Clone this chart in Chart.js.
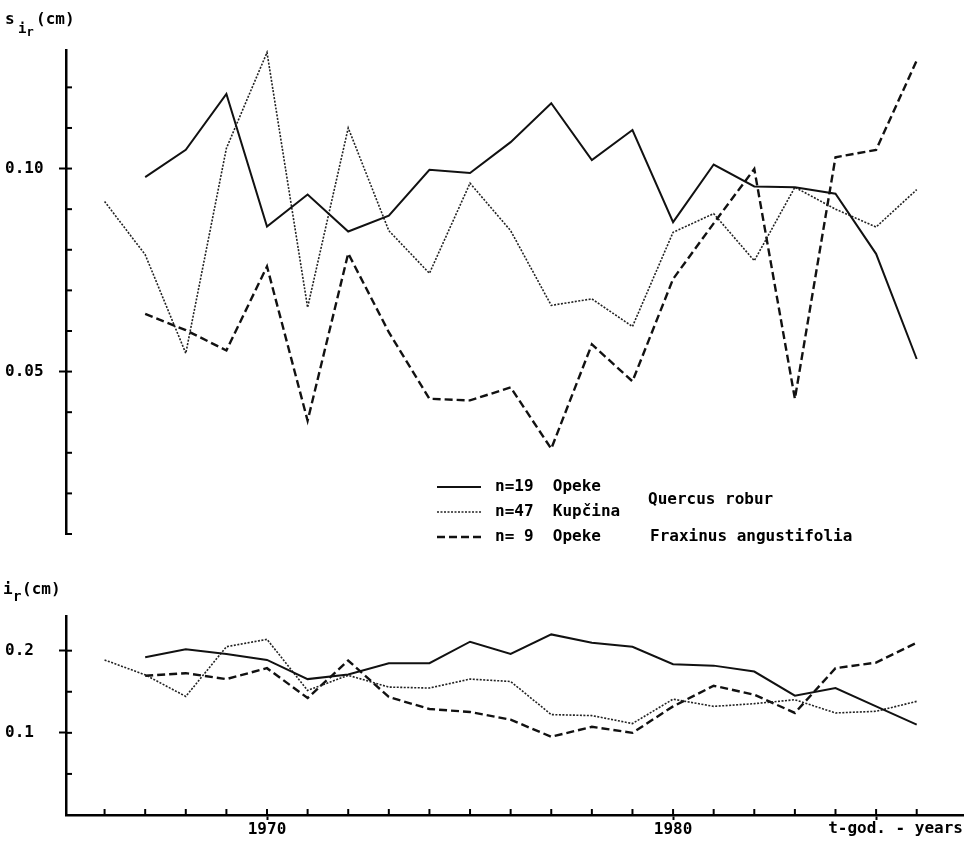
<!DOCTYPE html>
<html>
<head>
<meta charset="utf-8">
<title>s_ir / i_r</title>
<script src="https://cdn.jsdelivr.net/npm/chart.js@4"></script>
<style>
  body { margin: 0; background: #fff; }
  #wrap { position: relative; width: 969px; height: 844px; }
  canvas { position: absolute; left: 0; }
  #topChart { top: 0; }
  #bottomChart { top: 560px; }
</style>
</head>
<body>
<div id="wrap">
  <canvas id="topChart" width="969" height="560"></canvas>
  <canvas id="bottomChart" width="969" height="284"></canvas>
</div>
<script>
const years = [1966, 1967, 1968, 1969, 1970, 1971, 1972, 1973, 1974, 1975, 1976,
               1977, 1978, 1979, 1980, 1981, 1982, 1983, 1984, 1985, 1986];

// s_ir (cm) - upper panel
const sOpeke19   = [null, 0.0979, 0.1046, 0.1184, 0.0857, 0.0936, 0.0845, 0.0884, 0.0997, 0.0989, 0.1065,
                    0.1161, 0.1021, 0.1095, 0.0868, 0.1010, 0.0956, 0.0954, 0.0938, 0.0790, 0.0531];
const sKupcina47 = [0.0919, 0.0788, 0.0545, 0.1050, 0.1286, 0.0658, 0.1100, 0.0847, 0.0742, 0.0964, 0.0847,
                    0.0663, 0.0679, 0.0611, 0.0843, 0.0889, 0.0773, 0.0954, 0.0900, 0.0856, 0.0948];
const sOpeke9    = [null, 0.0642, 0.0602, 0.0552, 0.0759, 0.0379, 0.0791, 0.0597, 0.0433, 0.0429, 0.0461,
                    0.0310, 0.0567, 0.0476, 0.0728, 0.0865, 0.0999, 0.0433, 0.1028, 0.1046, 0.1266];

// i_r (cm) - lower panel
const iOpeke19   = [null, 0.192, 0.2017, 0.196, 0.1887, 0.1654, 0.171, 0.1847, 0.1847, 0.2109, 0.196,
                    0.2198, 0.2097, 0.2048, 0.1835, 0.1818, 0.1746, 0.1452, 0.1545, 0.1322, 0.110];
const iKupcina47 = [0.1887, 0.1706, 0.1443, 0.2048, 0.2138, 0.1516, 0.170, 0.1557, 0.1545, 0.1654, 0.1625,
                    0.1222, 0.121, 0.1113, 0.141, 0.1322, 0.1355, 0.1403, 0.1242, 0.1262, 0.1383];
const iOpeke9    = [null, 0.1694, 0.1726, 0.1654, 0.1787, 0.1424, 0.188, 0.1436, 0.129, 0.1254, 0.116,
                    0.0952, 0.1073, 0.100, 0.1322, 0.1573, 0.1464, 0.1242, 0.1787, 0.1855, 0.2097];

const legendRows = ['n=19  Opeke', 'n=47  Kupčina', 'n= 9  Opeke'];
const speciesLabels = ['Quercus robur', 'Fraxinus angustifolia'];
const yearLabels = [1970, 1980];
const yearMajor = [1970, 1980, 1985];
const sMajor = [0.05, 0.10];
const iMajor = [0.1, 0.2];
const xTitle = 't-god. - years';

const FAMILY = '"DejaVu Sans Mono", monospace';
Chart.defaults.color = '#000';
Chart.defaults.font.family = FAMILY;

const lineStyles = [
  { borderColor: '#111', borderWidth: 2, borderDash: [] },        // n=19 Opeke
  { borderColor: '#222', borderWidth: 1.6, borderDash: [2, 1.5] }, // n=47 Kupcina
  { borderColor: '#111', borderWidth: 2.4, borderDash: [8, 4] }   // n=9 Opeke
];

function points(arr) {
  return years.map((x, i) => ({ x: x, y: arr[i] }));
}

function makeDatasets(series) {
  return series.map((arr, i) => Object.assign({
    data: points(arr),
    pointRadius: 0,
    tension: 0,
    fill: false
  }, lineStyles[i]));
}

const isMajor = (list, v) => list.some(m => Math.abs(m - v) < 1e-9);

function xScale(show) {
  return {
    type: 'linear',
    min: 1965.05,
    max: 1987.14,
    display: show,
    afterFit: s => { if (show) s.height = 29; },
    border: { color: '#000', width: 2.5 },
    grid: {
      drawOnChartArea: false,
      tickLength: 5,
      tickWidth: 2,
      tickColor: c => (c.tick && isMajor(yearMajor, c.tick.value)) ? '#000' : 'transparent'
    },
    ticks: {
      stepSize: 1,
      includeBounds: false,
      autoSkip: false,
      maxRotation: 0,
      padding: 0,
      font: { size: 16, weight: 'bold' },
      callback: v => yearLabels.includes(v) ? String(v) : ''
    }
  };
}

function yScale(min, max, step, majors, digits) {
  return {
    type: 'linear',
    min: min,
    max: max,
    afterFit: s => { s.width = 61; },
    border: { color: '#000', width: 2.5 },
    grid: {
      drawOnChartArea: false,
      tickLength: 7,
      tickWidth: 2,
      tickColor: c => (c.tick && isMajor(majors, c.tick.value)) ? '#000' : 'transparent'
    },
    ticks: {
      stepSize: step,
      includeBounds: false,
      autoSkip: false,
      crossAlign: 'far',
      font: { size: 16, weight: 'bold' },
      callback: v => isMajor(majors, v) ? v.toFixed(digits) : ''
    }
  };
}

// small inward tick marks on the axes
const innerTicks = {
  id: 'innerTicks',
  afterDraw(chart) {
    const { ctx, chartArea } = chart;
    const y = chart.scales.y;
    const x = chart.scales.x;
    ctx.save();
    ctx.strokeStyle = '#000';
    ctx.lineWidth = 2;
    y.ticks.forEach(t => {
      if (t.value === 0) return;
      const py = y.getPixelForValue(t.value);
      ctx.beginPath();
      ctx.moveTo(chartArea.left, py);
      ctx.lineTo(chartArea.left + 6, py);
      ctx.stroke();
    });
    if (x.options.display) {
      years.forEach(yr => {
        const px = x.getPixelForValue(yr);
        ctx.beginPath();
        ctx.moveTo(px, chartArea.bottom);
        ctx.lineTo(px, chartArea.bottom - 6);
        ctx.stroke();
      });
    }
    ctx.restore();
  }
};

function txt(ctx, s, x, y, size) {
  ctx.font = 'bold ' + size + 'px ' + FAMILY;
  ctx.fillText(s, x, y);
}

const topText = {
  id: 'topText',
  afterDraw(chart) {
    const ctx = chart.ctx;
    ctx.save();
    ctx.fillStyle = '#000';
    ctx.textBaseline = 'middle';
    ctx.textAlign = 'left';
    // axis title s_i_r (cm)
    txt(ctx, 's', 5, 20, 16);
    txt(ctx, 'i', 18, 29, 14);
    txt(ctx, 'r', 26.5, 33, 12);
    txt(ctx, '(cm)', 36, 20, 16);
    // legend
    const rowsY = [487, 512, 537];
    chart.data.datasets.forEach((ds, i) => {
      ctx.save();
      ctx.strokeStyle = ds.borderColor;
      ctx.lineWidth = ds.borderWidth;
      ctx.setLineDash(ds.borderDash);
      ctx.beginPath();
      ctx.moveTo(437, rowsY[i]);
      ctx.lineTo(481, rowsY[i]);
      ctx.stroke();
      ctx.restore();
      txt(ctx, legendRows[i], 495, rowsY[i], 16);
    });
    txt(ctx, speciesLabels[0], 648, 500, 16);
    txt(ctx, speciesLabels[1], 650, 537, 16);
    ctx.restore();
  }
};

const bottomText = {
  id: 'bottomText',
  afterDraw(chart) {
    const ctx = chart.ctx;
    ctx.save();
    ctx.fillStyle = '#000';
    ctx.textBaseline = 'middle';
    ctx.textAlign = 'left';
    txt(ctx, 'i', 3, 30, 16);
    txt(ctx, 'r', 13, 37, 14);
    txt(ctx, '(cm)', 22, 30, 16);
    ctx.textAlign = 'right';
    txt(ctx, xTitle, 963, 269, 16);
    ctx.restore();
  }
};

new Chart(document.getElementById('topChart'), {
  type: 'line',
  data: { datasets: makeDatasets([sOpeke19, sKupcina47, sOpeke9]) },
  options: {
    responsive: false,
    animation: false,
    layout: { padding: { left: 5, top: 50, right: 6, bottom: 26 } },
    plugins: { legend: { display: false }, title: { display: false }, tooltip: { enabled: false } },
    scales: {
      x: xScale(false),
      y: yScale(0.01, 0.1292, 0.01, sMajor, 2)
    }
  },
  plugins: [innerTicks, topText]
});

new Chart(document.getElementById('bottomChart'), {
  type: 'line',
  data: { datasets: makeDatasets([iOpeke19, iKupcina47, iOpeke9]) },
  options: {
    responsive: false,
    animation: false,
    layout: { padding: { left: 5, top: 56, right: 6, bottom: 0 } },
    plugins: { legend: { display: false }, title: { display: false }, tooltip: { enabled: false } },
    scales: {
      x: xScale(true),
      y: yScale(0, 0.2422, 0.05, iMajor, 1)
    }
  },
  plugins: [innerTicks, bottomText]
});
</script>
</body>
</html>
